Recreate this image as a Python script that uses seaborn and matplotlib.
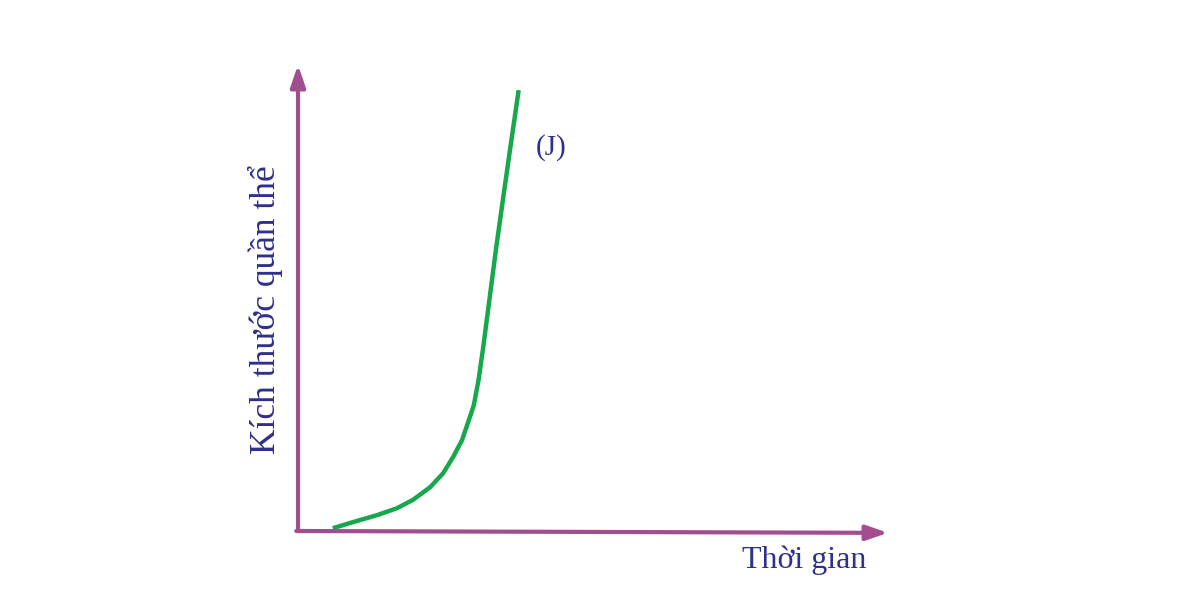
import numpy as np
import pandas as pd
import matplotlib
matplotlib.use("Agg")
import matplotlib.pyplot as plt
import seaborn as sns

# J-shaped growth curve (time, population size)
thoi_gian = [0.59, 0.93, 1.34, 1.68, 1.95, 2.24, 2.46, 2.63, 2.78, 2.88, 2.98,
             3.06, 3.14, 3.25, 3.36, 3.48, 3.60, 3.74]
kich_thuoc = [0.06, 0.19, 0.34, 0.49, 0.67, 0.94, 1.24, 1.59, 1.95, 2.32, 2.70,
              3.24, 3.95, 5.02, 6.09, 7.17, 8.24, 9.46]
curve_label = "(J)"
x_label = "Thời gian"
y_label = "Kích thước quần thể"

axis_color = "#a24d8e"
line_color = "#17a84c"
text_color = "#2f2f8c"

sns.set_style("white")
plt.rcParams["font.family"] = ["Liberation Serif", "DejaVu Serif"]

df = pd.DataFrame({"t": thoi_gian, "n": kich_thuoc})

fig = plt.figure(figsize=(11.79, 5.97), dpi=100)
ax = fig.add_axes([298 / 1179, 66 / 597, 590 / 1179, 466 / 597])

sns.lineplot(data=df, x="t", y="n", ax=ax, color=line_color, linewidth=3.2,
             sort=False, solid_capstyle="butt", solid_joinstyle="round")
ax.set_xlim(0, 10)
ax.set_ylim(0, 10)

for s in ax.spines.values():
    s.set_visible(False)
ax.set_xticks([])
ax.set_yticks([])
ax.set_xlabel("")
ax.set_ylabel("")

arrow = dict(arrowstyle="-|>,head_length=1.3,head_width=0.45", color=axis_color,
             lw=3, shrinkA=0, shrinkB=0)
ax.annotate("", xy=(0, 1.0), xytext=(0, 0), xycoords="axes fraction",
            arrowprops=arrow, annotation_clip=False)
ax.annotate("", xy=(1.0, -0.004), xytext=(-0.003, 0), xycoords="axes fraction",
            arrowprops=arrow, annotation_clip=False)

ax.text(0.963, -0.062, x_label, transform=ax.transAxes, ha="right", va="center",
        fontsize=23, color=text_color)
ax.text(-0.056, 0.474, y_label, transform=ax.transAxes, ha="center", va="center",
        rotation=90, fontsize=25.5, color=text_color)
ax.text(4.29, 8.22, curve_label, ha="center", va="center", fontsize=21,
        color=text_color)

fig.savefig("out.png", dpi=100)
